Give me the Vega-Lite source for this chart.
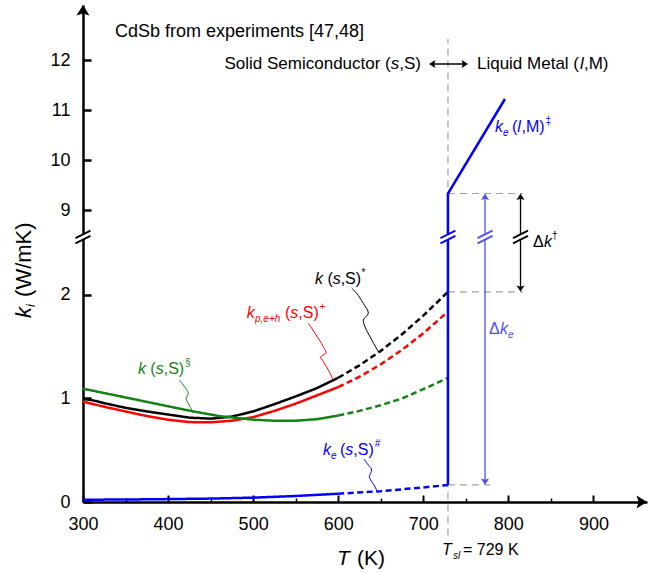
{
  "$schema": "https://vega.github.io/schema/vega-lite/v6.json",
  "width": 564,
  "height": 497,
  "autosize": {"type": "none"},
  "padding": {"left": 83, "top": 5, "right": 1, "bottom": 71},
  "background": "white",
  "config": {"view": {"stroke": null}, "font": "Liberation Sans"},
  "datasets": {
    "curves": [
      {"series": "k_star", "part": "solid", "T": 300, "k": 0.995},
      {"series": "k_star", "part": "solid", "T": 310, "k": 0.985},
      {"series": "k_star", "part": "solid", "T": 325, "k": 0.955},
      {"series": "k_star", "part": "solid", "T": 350, "k": 0.91},
      {"series": "k_star", "part": "solid", "T": 375, "k": 0.875},
      {"series": "k_star", "part": "solid", "T": 400, "k": 0.845},
      {"series": "k_star", "part": "solid", "T": 425, "k": 0.815},
      {"series": "k_star", "part": "solid", "T": 450, "k": 0.805},
      {"series": "k_star", "part": "solid", "T": 475, "k": 0.825},
      {"series": "k_star", "part": "solid", "T": 500, "k": 0.875},
      {"series": "k_star", "part": "solid", "T": 525, "k": 0.945},
      {"series": "k_star", "part": "solid", "T": 550, "k": 1.02},
      {"series": "k_star", "part": "solid", "T": 575, "k": 1.1},
      {"series": "k_star", "part": "solid", "T": 600, "k": 1.2},
      {"series": "k_star", "part": "dashed", "T": 600, "k": 1.2},
      {"series": "k_star", "part": "dashed", "T": 625, "k": 1.32},
      {"series": "k_star", "part": "dashed", "T": 650, "k": 1.46},
      {"series": "k_star", "part": "dashed", "T": 675, "k": 1.62},
      {"series": "k_star", "part": "dashed", "T": 700, "k": 1.8},
      {"series": "k_star", "part": "dashed", "T": 729, "k": 2.03},
      {"series": "kpeh_plus", "part": "solid", "T": 300, "k": 0.97},
      {"series": "kpeh_plus", "part": "solid", "T": 325, "k": 0.92},
      {"series": "kpeh_plus", "part": "solid", "T": 350, "k": 0.875},
      {"series": "kpeh_plus", "part": "solid", "T": 375, "k": 0.83},
      {"series": "kpeh_plus", "part": "solid", "T": 400, "k": 0.795},
      {"series": "kpeh_plus", "part": "solid", "T": 425, "k": 0.772},
      {"series": "kpeh_plus", "part": "solid", "T": 450, "k": 0.77},
      {"series": "kpeh_plus", "part": "solid", "T": 475, "k": 0.785},
      {"series": "kpeh_plus", "part": "solid", "T": 500, "k": 0.82},
      {"series": "kpeh_plus", "part": "solid", "T": 525, "k": 0.88},
      {"series": "kpeh_plus", "part": "solid", "T": 550, "k": 0.95},
      {"series": "kpeh_plus", "part": "solid", "T": 575, "k": 1.03},
      {"series": "kpeh_plus", "part": "solid", "T": 600, "k": 1.11},
      {"series": "kpeh_plus", "part": "dashed", "T": 600, "k": 1.11},
      {"series": "kpeh_plus", "part": "dashed", "T": 625, "k": 1.21},
      {"series": "kpeh_plus", "part": "dashed", "T": 650, "k": 1.33},
      {"series": "kpeh_plus", "part": "dashed", "T": 675, "k": 1.47},
      {"series": "kpeh_plus", "part": "dashed", "T": 700, "k": 1.63},
      {"series": "kpeh_plus", "part": "dashed", "T": 729, "k": 1.84},
      {"series": "k_sect", "part": "solid", "T": 300, "k": 1.095},
      {"series": "k_sect", "part": "solid", "T": 350, "k": 1.01},
      {"series": "k_sect", "part": "solid", "T": 400, "k": 0.925},
      {"series": "k_sect", "part": "solid", "T": 430, "k": 0.875},
      {"series": "k_sect", "part": "solid", "T": 460, "k": 0.83},
      {"series": "k_sect", "part": "solid", "T": 500, "k": 0.795},
      {"series": "k_sect", "part": "solid", "T": 525, "k": 0.785},
      {"series": "k_sect", "part": "solid", "T": 550, "k": 0.785},
      {"series": "k_sect", "part": "solid", "T": 575, "k": 0.8},
      {"series": "k_sect", "part": "solid", "T": 600, "k": 0.835},
      {"series": "k_sect", "part": "dashed", "T": 600, "k": 0.835},
      {"series": "k_sect", "part": "dashed", "T": 625, "k": 0.88},
      {"series": "k_sect", "part": "dashed", "T": 650, "k": 0.935},
      {"series": "k_sect", "part": "dashed", "T": 675, "k": 1.0},
      {"series": "k_sect", "part": "dashed", "T": 700, "k": 1.09},
      {"series": "k_sect", "part": "dashed", "T": 729, "k": 1.2},
      {"series": "ke_hash", "part": "solid", "T": 300, "k": 0.022},
      {"series": "ke_hash", "part": "solid", "T": 350, "k": 0.024},
      {"series": "ke_hash", "part": "solid", "T": 400, "k": 0.028},
      {"series": "ke_hash", "part": "solid", "T": 450, "k": 0.033},
      {"series": "ke_hash", "part": "solid", "T": 500, "k": 0.042},
      {"series": "ke_hash", "part": "solid", "T": 550, "k": 0.058},
      {"series": "ke_hash", "part": "solid", "T": 600, "k": 0.08},
      {"series": "ke_hash", "part": "dashed", "T": 600, "k": 0.08},
      {"series": "ke_hash", "part": "dashed", "T": 650, "k": 0.105},
      {"series": "ke_hash", "part": "dashed", "T": 700, "k": 0.14},
      {"series": "ke_hash", "part": "dashed", "T": 729, "k": 0.165}
    ],
    "melt": [
      {"series": "ke_ddag", "ord": 1, "T": 729, "k": 0.165},
      {"series": "ke_ddag", "ord": 2, "T": 729, "k": 9.33},
      {"series": "ke_ddag", "ord": 3, "T": 796, "k": 11.22}
    ],
    "guides": [
      {"T": 729, "T2": 729, "k": -0.32, "k2": 12.42},
      {"T": 729, "T2": 817.2, "k": 9.33, "k2": 9.33},
      {"T": 729, "T2": 817.2, "k": 2.03, "k2": 2.03},
      {"T": 729, "T2": 778.4, "k": 0.165, "k2": 0.165}
    ],
    "shafts": [
      {"series": "dke", "T": 772.6, "T2": 772.6, "k": 0.2, "k2": 9.3},
      {"series": "dk_dag", "T": 814.3, "T2": 814.3, "k": 2.06, "k2": 9.3},
      {"series": "axis", "T": 710, "T2": 749, "k": 11.92, "k2": 11.92}
    ],
    "heads": [
      {"series": "dke", "T": 772.6, "k": 9.33, "dir": "up"},
      {"series": "dke", "T": 772.6, "k": 0.165, "dir": "down"},
      {"series": "dk_dag", "T": 814.3, "k": 9.33, "dir": "up"},
      {"series": "dk_dag", "T": 814.3, "k": 2.03, "dir": "down"},
      {"series": "axis", "T": 706.7, "k": 11.92, "dir": "left"},
      {"series": "axis", "T": 752.6, "k": 11.92, "dir": "right"}
    ],
    "axisHeads": [
      {"series": "axis", "T": 300, "k": 13.1, "dir": "up"},
      {"series": "axis", "T": 963, "k": 0, "dir": "right"}
    ],
    "breaks": [
      {"series": "axis", "T": 300, "k": 2.56},
      {"series": "ke_ddag", "T": 729, "k": 2.56},
      {"series": "dke", "T": 772.6, "k": 2.56},
      {"series": "dk_dag", "T": 814.3, "k": 2.56}
    ],
    "leaders": [
      {"series": "k_star", "ord": 1, "T": 615.9, "k": 2.065},
      {"series": "k_star", "ord": 2, "T": 621.7, "k": 2.016},
      {"series": "k_star", "ord": 3, "T": 629.5, "k": 1.919},
      {"series": "k_star", "ord": 4, "T": 635.4, "k": 1.823},
      {"series": "k_star", "ord": 5, "T": 629.5, "k": 1.758},
      {"series": "k_star", "ord": 6, "T": 631.5, "k": 1.693},
      {"series": "k_star", "ord": 7, "T": 637.4, "k": 1.597},
      {"series": "k_star", "ord": 8, "T": 647.1, "k": 1.452},
      {"series": "kpeh_plus", "ord": 1, "T": 564.8, "k": 1.727},
      {"series": "kpeh_plus", "ord": 2, "T": 572.7, "k": 1.63},
      {"series": "kpeh_plus", "ord": 3, "T": 582.5, "k": 1.501},
      {"series": "kpeh_plus", "ord": 4, "T": 585.6, "k": 1.437},
      {"series": "kpeh_plus", "ord": 5, "T": 579.4, "k": 1.404},
      {"series": "kpeh_plus", "ord": 6, "T": 582.5, "k": 1.356},
      {"series": "kpeh_plus", "ord": 7, "T": 588.4, "k": 1.275},
      {"series": "kpeh_plus", "ord": 8, "T": 594.2, "k": 1.179},
      {"series": "k_sect", "ord": 1, "T": 413.2, "k": 1.179},
      {"series": "k_sect", "ord": 2, "T": 417.9, "k": 1.13},
      {"series": "k_sect", "ord": 3, "T": 423.8, "k": 1.05},
      {"series": "k_sect", "ord": 4, "T": 421.1, "k": 1.002},
      {"series": "k_sect", "ord": 5, "T": 422.6, "k": 0.969},
      {"series": "k_sect", "ord": 6, "T": 425.8, "k": 0.921},
      {"series": "k_sect", "ord": 7, "T": 429.7, "k": 0.857},
      {"series": "ke_hash", "ord": 1, "T": 630.3, "k": 0.413},
      {"series": "ke_hash", "ord": 2, "T": 635.4, "k": 0.357},
      {"series": "ke_hash", "ord": 3, "T": 639.4, "k": 0.309},
      {"series": "ke_hash", "ord": 4, "T": 636.6, "k": 0.244},
      {"series": "ke_hash", "ord": 5, "T": 638.2, "k": 0.213},
      {"series": "ke_hash", "ord": 6, "T": 642.1, "k": 0.164},
      {"series": "ke_hash", "ord": 7, "T": 646.0, "k": 0.1}
    ],
    "texts": [
      {"T": 337.6, "k": 12.47, "text": "CdSb from experiments [47,48]", "role": "head", "series": "axis"},
      {"T": 466.3, "k": 11.82, "text": "Solid Semiconductor (", "role": "top", "series": "axis"},
      {"T": 661.8, "k": 11.82, "text": "s", "role": "topvar", "series": "axis"},
      {"T": 671.8, "k": 11.82, "text": ",S)", "role": "top", "series": "axis"},
      {"T": 763.1, "k": 11.82, "text": "Liquid Metal (", "role": "top", "series": "axis"},
      {"T": 884.2, "k": 11.82, "text": "l", "role": "topvar", "series": "axis"},
      {"T": 888.9, "k": 11.82, "text": ",M)", "role": "top", "series": "axis"},

      {"T": 572.7, "k": 2.106, "text": "k", "role": "var", "series": "k_star"},
      {"T": 587.3, "k": 2.106, "text": "(", "role": "txt", "series": "k_star"},
      {"T": 593.5, "k": 2.106, "text": "s", "role": "var", "series": "k_star"},
      {"T": 602.9, "k": 2.106, "text": ",S)", "role": "txt", "series": "k_star"},
      {"T": 627.3, "k": 2.184, "text": "*", "role": "sup", "series": "k_star"},

      {"T": 492.4, "k": 1.778, "text": "k", "role": "var", "series": "kpeh_plus"},
      {"T": 502.2, "k": 1.739, "text": "p,e+h", "role": "sub", "series": "kpeh_plus"},
      {"T": 537.5, "k": 1.778, "text": "(", "role": "txt", "series": "kpeh_plus"},
      {"T": 543.7, "k": 1.778, "text": "s", "role": "var", "series": "kpeh_plus"},
      {"T": 553.1, "k": 1.778, "text": ",S)", "role": "txt", "series": "kpeh_plus"},
      {"T": 578.0, "k": 1.855, "text": "+", "role": "sup", "series": "kpeh_plus"},

      {"T": 364.7, "k": 1.237, "text": "k", "role": "var", "series": "k_sect"},
      {"T": 379.2, "k": 1.237, "text": "(", "role": "txt", "series": "k_sect"},
      {"T": 385.5, "k": 1.237, "text": "s", "role": "var", "series": "k_sect"},
      {"T": 394.9, "k": 1.237, "text": ",S)", "role": "txt", "series": "k_sect"},
      {"T": 419.9, "k": 1.314, "text": "§", "role": "sup", "series": "k_sect"},

      {"T": 582.1, "k": 0.454, "text": "k", "role": "var", "series": "ke_hash"},
      {"T": 591.5, "k": 0.415, "text": "e", "role": "sub", "series": "ke_hash"},
      {"T": 602.1, "k": 0.454, "text": "(", "role": "txt", "series": "ke_hash"},
      {"T": 608.3, "k": 0.454, "text": "s", "role": "var", "series": "ke_hash"},
      {"T": 617.7, "k": 0.454, "text": ",S)", "role": "txt", "series": "ke_hash"},
      {"T": 643.0, "k": 0.531, "text": "#", "role": "sup", "series": "ke_hash"},

      {"T": 784.3, "k": 10.56, "text": "k", "role": "var", "series": "ke_ddag"},
      {"T": 793.7, "k": 10.48, "text": "e", "role": "sub", "series": "ke_ddag"},
      {"T": 804.3, "k": 10.56, "text": "(", "role": "txt", "series": "ke_ddag"},
      {"T": 810.5, "k": 10.56, "text": "l", "role": "var", "series": "ke_ddag"},
      {"T": 815.5, "k": 10.56, "text": ",M)", "role": "txt", "series": "ke_ddag"},
      {"T": 843.6, "k": 10.72, "text": "‡", "role": "sup", "series": "ke_ddag"},

      {"T": 829.0, "k": 2.464, "text": "Δ", "role": "txt", "series": "dk_dag"},
      {"T": 841.9, "k": 2.464, "text": "k", "role": "var", "series": "dk_dag"},
      {"T": 851.3, "k": 2.541, "text": "†", "role": "sup", "series": "dk_dag"},

      {"T": 777.3, "k": 1.623, "text": "Δ", "role": "txt", "series": "dke"},
      {"T": 790.2, "k": 1.623, "text": "k", "role": "var", "series": "dke"},
      {"T": 799.6, "k": 1.585, "text": "e", "role": "sub", "series": "dke"},

      {"T": 722.0, "k": -0.512, "text": "T", "role": "var", "series": "axis"},
      {"T": 734.9, "k": -0.551, "text": "sl", "role": "sub", "series": "axis"},
      {"T": 746.7, "k": -0.512, "text": "= 729 K", "role": "txt", "series": "axis"},

      {"T": 598.6, "k": -0.609, "text": "T", "role": "xvar", "series": "axis"},
      {"T": 622.1, "k": -0.609, "text": "(K)", "role": "xtxt", "series": "axis"},

      {"T": 238.9, "k": 1.778, "text": "k", "role": "yvar", "series": "axis"},
      {"T": 243.6, "k": 1.884, "text": "i", "role": "ysub", "series": "axis"},
      {"T": 238.9, "k": 1.981, "text": "(W/mK)", "role": "ytxt", "series": "axis"}
    ]
  },
  "resolve": {"axis": {"x": "independent", "y": "independent"}},
  "layer": [
    {
      "data": {"name": "guides"},
      "mark": {"type": "rule", "color": "#a0a0a0", "strokeWidth": 1.2, "strokeDash": [7, 5], "clip": false},
      "encoding": {
        "x": {"field": "T", "type": "quantitative",
          "scale": {"domain": [300, 963], "nice": false, "zero": false},
          "axis": {"orient": "bottom", "values": [300, 400, 500, 600, 700, 800, 900], "ticks": false, "labelPadding": 13, "labelFontSize": 18, "labelFont": "Liberation Sans", "labelColor": "#000000", "labelFlush": false, "labelOverlap": false, "domainColor": "#000000", "domainWidth": 2.5, "grid": false, "title": null}},
        "x2": {"field": "T2"},
        "y": {"field": "k", "type": "quantitative",
          "scale": {"type": "linear", "domain": [0, 2.56, 8.46, 13.1], "range": [497, 232, 232, 0], "nice": false, "zero": false},
          "axis": {"orient": "left", "values": [0, 1, 2, 9, 10, 11, 12], "ticks": false, "labelPadding": 13, "labelFontSize": 18, "labelFont": "Liberation Sans", "labelColor": "#000000", "labelFlush": false, "labelOverlap": false, "domainColor": "#000000", "domainWidth": 2.5, "grid": false, "title": null}},
        "y2": {"field": "k2"}
      }
    },
    {
      "data": {"name": "curves"},
      "mark": {"type": "line", "strokeWidth": 2.5, "clip": false},
      "encoding": {
        "x": {"field": "T", "type": "quantitative",
          "axis": {"orient": "bottom", "values": [300, 400, 500, 600, 700, 800, 900], "labels": false, "domain": false, "ticks": true, "tickSize": -7, "tickWidth": 2, "tickColor": "#000000", "grid": false, "title": null}},
        "y": {"field": "k", "type": "quantitative",
          "axis": {"orient": "left", "values": [0, 1, 2, 9, 10, 11, 12], "labels": false, "domain": false, "ticks": true, "tickSize": -8, "tickWidth": 2.5, "tickColor": "#000000", "grid": false, "title": null}},
        "color": {"field": "series", "type": "nominal", "legend": null,
          "scale": {"domain": ["k_star", "kpeh_plus", "k_sect", "ke_hash", "ke_ddag", "dke", "dk_dag", "axis"],
                    "range": ["#000000", "#ff0000", "#148214", "#0000ff", "#0000ff", "#4d4dff", "#000000", "#000000"]}},
        "strokeDash": {"field": "part", "type": "nominal", "legend": null,
          "scale": {"domain": ["solid", "dashed"], "range": [[1, 0], [6, 3.5]]}}
      }
    },
    {
      "data": {"name": "melt"},
      "mark": {"type": "line", "strokeWidth": 2.5, "clip": false},
      "encoding": {
        "x": {"field": "T", "type": "quantitative",
          "axis": {"orient": "bottom", "values": [350, 450, 550, 650, 750, 850], "labels": false, "domain": false, "ticks": true, "tickSize": -4, "tickWidth": 1.5, "tickColor": "#000000", "grid": false, "title": null}},
        "y": {"field": "k", "type": "quantitative", "axis": null},
        "color": {"field": "series", "type": "nominal", "legend": null},
        "order": {"field": "ord", "type": "quantitative"}
      }
    },
    {
      "data": {"name": "shafts"},
      "mark": {"type": "rule", "strokeWidth": 1.3, "clip": false},
      "encoding": {
        "x": {"field": "T", "type": "quantitative", "axis": null},
        "x2": {"field": "T2"},
        "y": {"field": "k", "type": "quantitative", "axis": null},
        "y2": {"field": "k2"},
        "color": {"field": "series", "type": "nominal", "legend": null}
      }
    },
    {
      "data": {"name": "leaders"},
      "mark": {"type": "line", "strokeWidth": 1, "interpolate": "catmull-rom", "clip": false},
      "encoding": {
        "x": {"field": "T", "type": "quantitative", "axis": null},
        "y": {"field": "k", "type": "quantitative", "axis": null},
        "color": {"field": "series", "type": "nominal", "legend": null},
        "detail": {"field": "series"},
        "order": {"field": "ord", "type": "quantitative"}
      }
    },
    {
      "data": {"name": "heads"},
      "mark": {"type": "point", "filled": true, "size": 64, "opacity": 1, "strokeWidth": 0, "clip": false},
      "encoding": {
        "x": {"field": "T", "type": "quantitative", "axis": null},
        "y": {"field": "k", "type": "quantitative", "axis": null},
        "color": {"field": "series", "type": "nominal", "legend": null},
        "shape": {"field": "dir", "type": "nominal", "legend": null,
          "scale": {"domain": ["up", "down", "left", "right"],
                    "range": ["M0,0 L1,1.6 L0,1.3 L-1,1.6 Z", "M0,0 L1,-1.6 L0,-1.3 L-1,-1.6 Z", "M0,0 L1.6,1 L1.3,0 L1.6,-1 Z", "M0,0 L-1.6,1 L-1.3,0 L-1.6,-1 Z"]}}
      }
    },
    {
      "data": {"name": "axisHeads"},
      "mark": {"type": "point", "filled": true, "size": 169, "opacity": 1, "strokeWidth": 0, "clip": false},
      "encoding": {
        "x": {"field": "T", "type": "quantitative", "axis": null},
        "y": {"field": "k", "type": "quantitative", "axis": null},
        "color": {"field": "series", "type": "nominal", "legend": null},
        "shape": {"field": "dir", "type": "nominal", "legend": null}
      }
    },
    {
      "data": {"name": "breaks"},
      "mark": {"type": "point", "filled": true, "color": "#ffffff", "opacity": 1, "strokeWidth": 0, "size": 225,
        "shape": "M-1,0.15 L1,-0.85 L1,-0.15 L-1,0.85 Z", "clip": false},
      "encoding": {
        "x": {"field": "T", "type": "quantitative", "axis": null},
        "y": {"field": "k", "type": "quantitative", "axis": null}
      }
    },
    {
      "data": {"name": "breaks"},
      "mark": {"type": "point", "filled": false, "opacity": 1, "strokeWidth": 1.8, "size": 225,
        "shape": "M-1,0.15 L1,-0.85 M-1,0.85 L1,-0.15", "clip": false},
      "encoding": {
        "x": {"field": "T", "type": "quantitative", "axis": null},
        "y": {"field": "k", "type": "quantitative", "axis": null},
        "color": {"field": "series", "type": "nominal", "legend": null}
      }
    },
    {
      "data": {"name": "texts"},
      "transform": [{"filter": "datum.role === 'head'"}],
      "mark": {"type": "text", "align": "left", "baseline": "alphabetic", "font": "Liberation Sans", "fontSize": 18, "clip": false},
      "encoding": {
        "x": {"field": "T", "type": "quantitative", "axis": null},
        "y": {"field": "k", "type": "quantitative", "axis": null},
        "text": {"field": "text"},
        "color": {"field": "series", "type": "nominal", "legend": null}
      }
    },
    {
      "data": {"name": "texts"},
      "transform": [{"filter": "datum.role === 'top'"}],
      "mark": {"type": "text", "align": "left", "baseline": "alphabetic", "font": "Liberation Sans", "fontSize": 17, "clip": false},
      "encoding": {
        "x": {"field": "T", "type": "quantitative", "axis": null},
        "y": {"field": "k", "type": "quantitative", "axis": null},
        "text": {"field": "text"},
        "color": {"field": "series", "type": "nominal", "legend": null}
      }
    },
    {
      "data": {"name": "texts"},
      "transform": [{"filter": "datum.role === 'topvar'"}],
      "mark": {"type": "text", "align": "left", "baseline": "alphabetic", "font": "Liberation Sans", "fontStyle": "italic", "fontSize": 17, "clip": false},
      "encoding": {
        "x": {"field": "T", "type": "quantitative", "axis": null},
        "y": {"field": "k", "type": "quantitative", "axis": null},
        "text": {"field": "text"},
        "color": {"field": "series", "type": "nominal", "legend": null}
      }
    },
    {
      "data": {"name": "texts"},
      "transform": [{"filter": "datum.role === 'txt'"}],
      "mark": {"type": "text", "align": "left", "baseline": "alphabetic", "font": "Liberation Sans", "fontSize": 16, "clip": false},
      "encoding": {
        "x": {"field": "T", "type": "quantitative", "axis": null},
        "y": {"field": "k", "type": "quantitative", "axis": null},
        "text": {"field": "text"},
        "color": {"field": "series", "type": "nominal", "legend": null}
      }
    },
    {
      "data": {"name": "texts"},
      "transform": [{"filter": "datum.role === 'var'"}],
      "mark": {"type": "text", "align": "left", "baseline": "alphabetic", "font": "Liberation Sans", "fontStyle": "italic", "fontSize": 16, "clip": false},
      "encoding": {
        "x": {"field": "T", "type": "quantitative", "axis": null},
        "y": {"field": "k", "type": "quantitative", "axis": null},
        "text": {"field": "text"},
        "color": {"field": "series", "type": "nominal", "legend": null}
      }
    },
    {
      "data": {"name": "texts"},
      "transform": [{"filter": "datum.role === 'sub'"}],
      "mark": {"type": "text", "align": "left", "baseline": "alphabetic", "font": "Liberation Sans", "fontStyle": "italic", "fontSize": 10, "clip": false},
      "encoding": {
        "x": {"field": "T", "type": "quantitative", "axis": null},
        "y": {"field": "k", "type": "quantitative", "axis": null},
        "text": {"field": "text"},
        "color": {"field": "series", "type": "nominal", "legend": null}
      }
    },
    {
      "data": {"name": "texts"},
      "transform": [{"filter": "datum.role === 'sup'"}],
      "mark": {"type": "text", "align": "left", "baseline": "alphabetic", "font": "Liberation Sans", "fontSize": 10, "clip": false},
      "encoding": {
        "x": {"field": "T", "type": "quantitative", "axis": null},
        "y": {"field": "k", "type": "quantitative", "axis": null},
        "text": {"field": "text"},
        "color": {"field": "series", "type": "nominal", "legend": null}
      }
    },
    {
      "data": {"name": "texts"},
      "transform": [{"filter": "datum.role === 'xvar'"}],
      "mark": {"type": "text", "align": "left", "baseline": "alphabetic", "font": "Liberation Sans", "fontStyle": "italic", "fontSize": 21, "clip": false},
      "encoding": {
        "x": {"field": "T", "type": "quantitative", "axis": null},
        "y": {"field": "k", "type": "quantitative", "axis": null},
        "text": {"field": "text"},
        "color": {"field": "series", "type": "nominal", "legend": null}
      }
    },
    {
      "data": {"name": "texts"},
      "transform": [{"filter": "datum.role === 'xtxt'"}],
      "mark": {"type": "text", "align": "left", "baseline": "alphabetic", "font": "Liberation Sans", "fontSize": 21, "clip": false},
      "encoding": {
        "x": {"field": "T", "type": "quantitative", "axis": null},
        "y": {"field": "k", "type": "quantitative", "axis": null},
        "text": {"field": "text"},
        "color": {"field": "series", "type": "nominal", "legend": null}
      }
    },
    {
      "data": {"name": "texts"},
      "transform": [{"filter": "datum.role === 'yvar'"}],
      "mark": {"type": "text", "align": "left", "baseline": "alphabetic", "angle": 270, "font": "Liberation Sans", "fontStyle": "italic", "fontSize": 22, "clip": false},
      "encoding": {
        "x": {"field": "T", "type": "quantitative", "axis": null},
        "y": {"field": "k", "type": "quantitative", "axis": null},
        "text": {"field": "text"},
        "color": {"field": "series", "type": "nominal", "legend": null}
      }
    },
    {
      "data": {"name": "texts"},
      "transform": [{"filter": "datum.role === 'ysub'"}],
      "mark": {"type": "text", "align": "left", "baseline": "alphabetic", "angle": 270, "font": "Liberation Sans", "fontStyle": "italic", "fontSize": 13, "clip": false},
      "encoding": {
        "x": {"field": "T", "type": "quantitative", "axis": null},
        "y": {"field": "k", "type": "quantitative", "axis": null},
        "text": {"field": "text"},
        "color": {"field": "series", "type": "nominal", "legend": null}
      }
    },
    {
      "data": {"name": "texts"},
      "transform": [{"filter": "datum.role === 'ytxt'"}],
      "mark": {"type": "text", "align": "left", "baseline": "alphabetic", "angle": 270, "font": "Liberation Sans", "fontSize": 22, "clip": false},
      "encoding": {
        "x": {"field": "T", "type": "quantitative", "axis": null},
        "y": {"field": "k", "type": "quantitative", "axis": null},
        "text": {"field": "text"},
        "color": {"field": "series", "type": "nominal", "legend": null}
      }
    }
  ]
}
